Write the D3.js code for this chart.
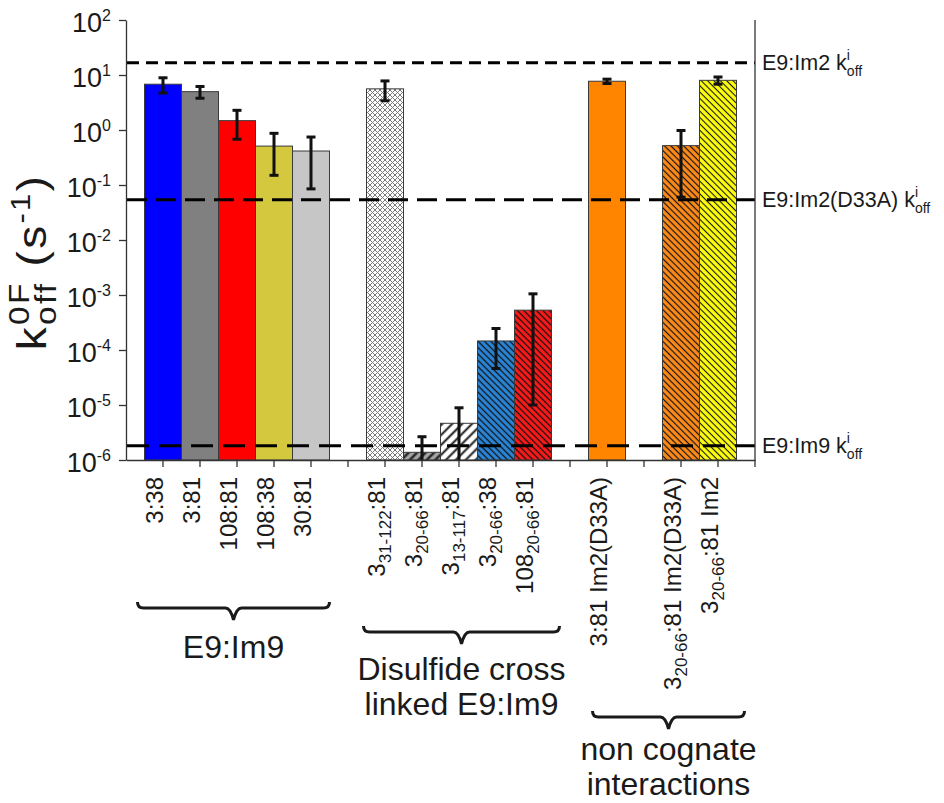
<!DOCTYPE html>
<html>
<head>
<meta charset="utf-8">
<script src="https://cdn.jsdelivr.net/npm/d3@7"></script>
<style>
  body { margin: 0; background: #fff; }
  text { font-family: "Liberation Sans", Arial, sans-serif; fill: #1a1a1a; }
</style>
</head>
<body>
<svg id="chart" width="944" height="803"></svg>
<script>
// ---------------------------------------------------------------------------
// Data. "" = empty slot between groups.
// _{...} marks a subscript in a label.
// ---------------------------------------------------------------------------
const categories = ["3:38", "3:81", "108:81", "108:38", "30:81", "",
    "3_{31-122}:81", "3_{20-66}:81", "3_{13-117}:81", "3_{20-66}:38", "108_{20-66}:81", "",
    "3:81 Im2(D33A)", "", "3_{20-66}:81 Im2(D33A)", "3_{20-66}:81 Im2"];
const koff = [6.8, 4.98, 1.48, 0.51, 0.415, null,
    5.6, 1.38e-6, 4.65e-6, 1.46e-4, 5.3e-4, null,
    7.7, null, 0.52, 8.0];
const koffSd = [2.1, 1.2, 0.8, 0.36, 0.33, null,
    2.2, 1.27e-6, 4.25e-6, 1.0e-4, 5.2e-4, null,
    0.7, null, 0.46, 1.2];

const refNames = ["E9:Im2", "E9:Im2(D33A)", "E9:Im9"];
const refKoff = [16.7, 0.054, 1.82e-6];

const groupNames = [["E9:Im9"], ["Disulfide cross", "linked E9:Im9"], ["non cognate", "interactions"]];
const groupFirst = [0, 6, 12];
const groupLast = [4, 10, 15];

const yTickValues = [1e-6, 1e-5, 1e-4, 1e-3, 1e-2, 1e-1, 1e0, 1e1, 1e2];

// ---------------------------------------------------------------------------
// Styles / layout
// ---------------------------------------------------------------------------
const barFills = ["#0000ff", "#808080", "#ff0000", "#d4c83e", "#c6c6c6", null,
    "url(#checker)", "url(#hatchDark)", "url(#hatchWhite)", "url(#hatchBlue)", "url(#hatchRed)", null,
    "#ff8400", null, "url(#hatchOrange)", "url(#hatchYellow)"];
const refDash = ["12,7", "20,9", "22,10"];
const braceY = [608, 632, 717];
const bracePad = [[-7, 0], [-3, 8], [4, 8]];
const groupTextY = [658, 680, 760];

const svg = d3.select("#chart");
const plot = {left: 126, right: 755, top: 20, bottom: 460};

const x = d3.scaleBand()
    .domain(d3.range(categories.length))
    .range([plot.left, plot.right])
    .paddingInner(0)
    .paddingOuter(0.5);

const y = d3.scaleLog()
    .domain([1e-6, 1e2])
    .range([plot.bottom, plot.top]);

//----------------------------------------------------------------------------
// patterns
//----------------------------------------------------------------------------
const defs = svg.append("defs");

function hatch(id, base, line, size, width, angle) {
    const p = defs.append("pattern")
        .attr("id", id)
        .attr("patternUnits", "userSpaceOnUse")
        .attr("width", size)
        .attr("height", size)
        .attr("patternTransform", "rotate(" + angle + ")");
    p.append("rect").attr("width", size).attr("height", size).attr("fill", base);
    p.append("line")
        .attr("x1", size / 2).attr("y1", 0)
        .attr("x2", size / 2).attr("y2", size)
        .attr("stroke", line)
        .attr("stroke-width", width);
}
hatch("hatchDark", "#a8a8a8", "#2a2a2a", 6, 2.6, 45);
hatch("hatchWhite", "#ffffff", "#1a1a1a", 7, 2, 45);
hatch("hatchBlue", "#2a86d8", "#111", 4.5, 1.3, -45);
hatch("hatchRed", "#ff1a1a", "#111", 4.5, 1.3, -45);
hatch("hatchOrange", "#ff8c1a", "#111", 4.5, 1.2, -45);
hatch("hatchYellow", "#ffff10", "#111", 4.5, 1.1, -45);

const checker = defs.append("pattern")
    .attr("id", "checker")
    .attr("patternUnits", "userSpaceOnUse")
    .attr("width", 5)
    .attr("height", 5);
checker.append("rect").attr("width", 5).attr("height", 5).attr("fill", "#fff");
checker.append("path")
    .attr("d", "M0,0L5,5M5,0L0,5")
    .attr("stroke", "#7a7a7a")
    .attr("stroke-width", 1);

//----------------------------------------------------------------------------
// bars
//----------------------------------------------------------------------------
const barData = d3.range(categories.length).filter(i => koff[i] != null);

svg.append("g")
    .selectAll("rect")
    .data(barData)
    .enter().append("rect")
    .attr("x", i => x(i))
    .attr("y", i => y(koff[i]))
    .attr("width", x.bandwidth())
    .attr("height", i => plot.bottom - y(koff[i]))
    .attr("fill", i => barFills[i])
    .attr("stroke", "#3a3a3a")
    .attr("stroke-width", 1);

//----------------------------------------------------------------------------
// reference k_off lines
//----------------------------------------------------------------------------
svg.append("g")
    .selectAll("line")
    .data(refKoff)
    .enter().append("line")
    .attr("x1", plot.left + 1)
    .attr("x2", plot.right)
    .attr("y1", d => y(d))
    .attr("y2", d => y(d))
    .attr("stroke", "#000")
    .attr("stroke-width", 3)
    .attr("stroke-dasharray", (d, i) => refDash[i]);

//----------------------------------------------------------------------------
// error bars
//----------------------------------------------------------------------------
const clampY = v => v <= 1e-6 ? plot.bottom : Math.min(plot.bottom, y(v));
const err = svg.append("g")
    .attr("stroke", "#111")
    .attr("stroke-width", 3);
barData.forEach(function(i) {
    const cx = x(i) + x.bandwidth() / 2;
    const hi = y(koff[i] + koffSd[i]);
    const lo = clampY(koff[i] - koffSd[i]);
    err.append("line").attr("x1", cx).attr("x2", cx).attr("y1", hi).attr("y2", lo);
    err.append("line").attr("x1", cx - 4.5).attr("x2", cx + 4.5).attr("y1", hi).attr("y2", hi);
    if (lo < plot.bottom)
        err.append("line").attr("x1", cx - 4.5).attr("x2", cx + 4.5).attr("y1", lo).attr("y2", lo);
});

//----------------------------------------------------------------------------
// axes
//----------------------------------------------------------------------------
const yAxis = svg.append("g")
    .attr("transform", "translate(" + plot.left + ",0)")
    .call(d3.axisLeft(y).tickValues(yTickValues).tickSize(7).tickFormat("").tickSizeOuter(0));
yAxis.select(".domain").attr("stroke", "#333").attr("stroke-width", 1.3);
yAxis.selectAll(".tick line").attr("stroke", "#333").attr("stroke-width", 1.3);
yAxis.selectAll(".tick").append("text")
    .attr("x", -15)
    .attr("dy", "0.42em")
    .attr("text-anchor", "end")
    .attr("fill", "#1a1a1a")
    .style("font-size", "27px")
    .each(function(d) {
        const t = d3.select(this);
        t.append("tspan").text("10");
        t.append("tspan").attr("dy", -11).style("font-size", "16px").text(Math.round(Math.log10(d)));
    });

const xAxis = svg.append("g")
    .attr("transform", "translate(0," + plot.bottom + ")")
    .call(d3.axisBottom(x).tickSize(7).tickFormat("").tickSizeOuter(0));
xAxis.select(".domain").attr("stroke", "#333").attr("stroke-width", 1.3);
xAxis.selectAll(".tick line").attr("stroke", "#333").attr("stroke-width", 1.3);

svg.append("line")
    .attr("x1", plot.right).attr("x2", plot.right)
    .attr("y1", plot.top).attr("y2", plot.bottom + 7)
    .attr("stroke", "#333").attr("stroke-width", 1.3);

// category labels, rotated
function addRich(textSel, label, subSize) {
    label.split(/(_\{[^}]*\})/).forEach(function(part) {
        if (!part) return;
        if (part[0] === "_") {
            textSel.append("tspan")
                .attr("dy", 6)
                .style("font-size", subSize)
                .text(part.slice(2, -1));
        } else {
            const prevSub = textSel.selectAll("tspan").size() > 0;
            textSel.append("tspan")
                .attr("dy", prevSub ? -6 : 0)
                .text(part);
        }
    });
}

svg.append("g")
    .selectAll("text")
    .data(d3.range(categories.length).filter(i => categories[i] !== ""))
    .enter().append("text")
    .attr("transform", i => "translate(" + (x(i) + x.bandwidth() / 2) + "," + (plot.bottom + 17) + ") rotate(-90)")
    .attr("text-anchor", "end")
    .attr("dy", "0.36em")
    .style("font-size", "24px")
    .each(function(i) { addRich(d3.select(this), categories[i], "17px"); });

// y axis title (spread out like the original)
const yTitle = svg.append("text")
    .attr("transform", "translate(46,262) rotate(-90) scale(1.15,1)")
    .attr("text-anchor", "middle")
    .style("font-size", "40px")
    .style("letter-spacing", "2px");
yTitle.append("tspan").text("k");
const sup0F = yTitle.append("tspan").attr("dy", -17).style("font-size", "29px").text("0F");
const subOff = yTitle.append("tspan").attr("dy", 27).style("font-size", "29px").text("off");
subOff.attr("dx", -sup0F.node().getComputedTextLength());
yTitle.append("tspan").attr("dy", -10).text(" (s");
yTitle.append("tspan").attr("dy", -16).style("font-size", "27px").text("-1");
yTitle.append("tspan").attr("dy", 16).text(")");

// reference line labels
refKoff.forEach(function(v, i) {
    const t = svg.append("text")
        .attr("x", plot.right + 7)
        .attr("y", y(v) + 7)
        .style("font-size", "21.5px");
    t.append("tspan").text(refNames[i] + " k");
    const sup = t.append("tspan").attr("dy", -10).style("font-size", "14px").text("i");
    t.append("tspan").attr("dy", 16).attr("dx", -sup.node().getComputedTextLength())
        .style("font-size", "14px").text("off");
});

//----------------------------------------------------------------------------
// group braces and names
//----------------------------------------------------------------------------
function bracePath(x0, x1, yb, tip) {
    const xm = (x0 + x1) / 2;
    return "M" + x0 + "," + (yb - 6) +
        "Q" + x0 + "," + yb + " " + (x0 + 6) + "," + yb +
        "L" + (xm - 8) + "," + yb +
        "Q" + (xm - 3) + "," + yb + " " + xm + "," + tip +
        "Q" + (xm + 3) + "," + yb + " " + (xm + 8) + "," + yb +
        "L" + (x1 - 6) + "," + yb +
        "Q" + x1 + "," + yb + " " + x1 + "," + (yb - 6);
}

groupNames.forEach(function(lines, g) {
    const x0 = x(groupFirst[g]) + bracePad[g][0];
    const x1 = x(groupLast[g]) + x.bandwidth() + bracePad[g][1];
    svg.append("path")
        .attr("d", bracePath(x0, x1, braceY[g], braceY[g] + 12))
        .attr("fill", "none")
        .attr("stroke", "#1a1a1a")
        .attr("stroke-width", 3);
    lines.forEach(function(line, j) {
        svg.append("text")
            .attr("x", (x0 + x1) / 2)
            .attr("y", groupTextY[g] + j * 35)
            .attr("text-anchor", "middle")
            .style("font-size", "32px")
            .text(line);
    });
});
</script>
</body>
</html>
